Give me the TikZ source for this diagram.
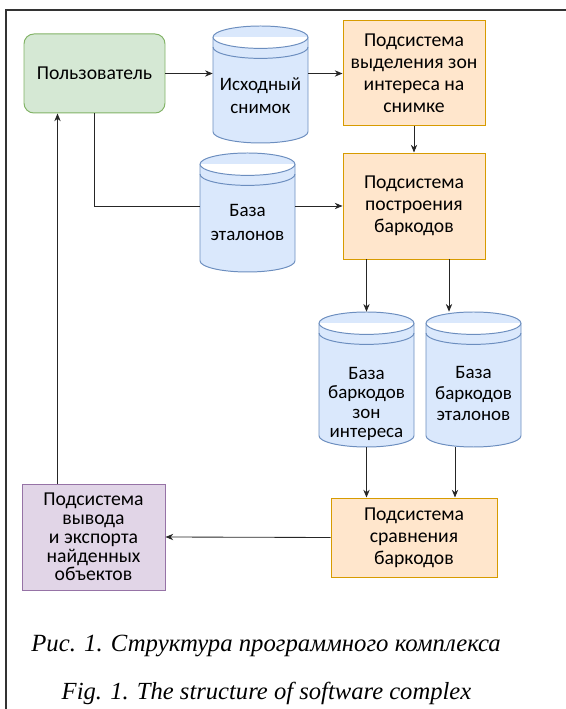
\documentclass[tikz,border=0pt]{standalone}
\usepackage{fontspec}
\setmainfont{Carlito}
\newfontfamily\captionfont{Liberation Serif}
\usetikzlibrary{arrows.meta,calc}
\definecolor{sage}{RGB}{213, 232, 212}
\definecolor{sagedark}{RGB}{130, 179, 102}
\definecolor{apricot}{RGB}{255, 230, 204}
\definecolor{apricotdark}{RGB}{215, 155, 0}
\definecolor{sky}{RGB}{218, 232, 252}
\definecolor{skydark}{RGB}{108, 142, 191}
\definecolor{lilac}{RGB}{225, 213, 231}
\definecolor{lilacdark}{RGB}{150, 115, 166}

\begin{document}
\begin{tikzpicture}[
        box/.style={draw, line width=0.7pt, align=center, inner sep=0pt, font=\fontsize{14}{15.7}\selectfont},
        label text/.style={align=center, inner sep=0pt, font=\fontsize{13.5}{#1}\selectfont},
        flow/.style={-{Stealth[length=5.5pt, width=4.5pt]}, line width=0.6pt, black!85},
        link/.style={line width=0.6pt, black!85}]
            % Frame
            \useasboundingbox                                                 (0.00, 0.00) rectangle (14.15, 17.725);
            \draw[black!80, line width=1.2pt]                                 (0.15, 0.00) -- (0.15, 17.475) -- (14.15, 17.475);
            % Subsystems
            \node[box, fill=sage, draw=sagedark, rounded corners=7pt,
                  minimum width=3.525cm, minimum height=1.975cm] (user)   at ( 2.3625, 15.8875) {Пользователь};
            \node[box, fill=apricot, draw=apricotdark,
                  minimum width=3.55cm, minimum height=2.625cm]  (sys1)   at (10.3500, 15.8875) {Подсистема\\выделения зон\\интереса на\\снимке};
            \node[box, fill=apricot, draw=apricotdark,
                  minimum width=3.55cm, minimum height=2.65cm]   (sys2)   at (10.3500, 12.5750) {Подсистема\\построения\\баркодов};
            \node[box, fill=apricot, draw=apricotdark,
                  minimum width=4.15cm, minimum height=1.975cm]  (sys3)   at (10.3500,  4.2875) {Подсистема\\сравнения\\баркодов};
            \node[box, fill=lilac, draw=lilacdark, font=\fontsize{14}{13.4}\selectfont,
                  minimum width=3.575cm, minimum height=2.65cm]  (output) at ( 2.3375,  4.3000) {Подсистема\\вывода\\и экспорта\\найденных\\объектов};
            % Data stores
            \foreach \name/\x/\y/\h in {snimok/6.5125/15.6125/2.925, etalon/6.1875/12.4125/2.975,
                                        bzi/9.1625/8.2375/3.375, be/11.8375/8.2375/3.375}{
                \pgfmathsetmacro\xl{\x-1.1875}
                \pgfmathsetmacro\xr{\x+1.1875}
                \pgfmathsetmacro\yt{\y+\h/2-0.28}
                \pgfmathsetmacro\yb{\y-\h/2+0.28}
                \filldraw[fill=sky, draw=skydark, line width=0.7pt]  (\xl,\yt) -- (\xl,\yb) arc (180:360:1.1875 and 0.28)
                                                                     -- (\xr,\yt) arc (0:180:1.1875 and 0.28) -- cycle;
                \fill[white]                                         (\xl,\yt) arc (180:360:1.1875 and 0.28) -- cycle;
                \draw[skydark, line width=0.7pt]                     (\xl,\yt) arc (180:360:1.1875 and 0.28);
                \draw[skydark, line width=0.7pt]                     (\xl,\yt-0.25) arc (180:360:1.1875 and 0.28);
                \node[minimum width=2.375cm, minimum height=\h cm, inner sep=0pt] (\name) at (\x,\y) {};
            }
            \node[label text=17.0] (snimokText) at ($(snimok.center)+(0,-0.28)$) {Исходный\\снимок};
            \node[label text=17.0] (etalonText) at ($(etalon.center)+(0,-0.25)$) {База\\эталонов};
            \node[label text=13.6] (bziText)    at ($(bzi.center)+(0,-0.61)$)    {База\\баркодов\\зон\\интереса};
            \node[label text=14.9] (beText)     at ($(be.center)+(0,-0.36)$)     {База\\баркодов\\эталонов};
            % Connectors
            \draw[flow] (user.east) -- (user.east -| snimok.west);
            \draw[flow] (snimok.east |- sys1.west) -- (sys1.west);
            \draw[flow] (sys1.south) -- (sys2.north);
            \draw[link] (user.south) |- (etalon.west |- sys2.west);
            \draw[flow] (etalon.east |- sys2.west) -- (sys2.west);
            \draw[flow] (sys2.south -| bzi.north) -- (bzi.north);
            \coordinate (split) at ($(sys2.south)+(0.875,0)$);
            \draw[flow] (split) -- (split |- be.north);
            \draw[flow] (bzi.south) -- (bzi.south |- sys3.north);
            \coordinate (merge) at ($(sys3.north)+(1.025,0)$);
            \draw[flow] (merge |- be.south) -- (merge);
            \draw[flow] (sys3.west) -- (output.east);
            \coordinate (back) at ($(output.north west)+(0.9,0)$);
            \draw[flow] (back) -- (back |- user.south);
            % Caption
            \node[anchor=base, font=\captionfont\itshape\fontsize{17.6}{21}\selectfont] (capRu) at (6.6500, 1.425) {Рис. 1. Структура программного комплекса};
            \node[anchor=base, font=\captionfont\itshape\fontsize{17.5}{21}\selectfont] (capEn) at (6.6625, 0.225) {Fig. 1. The structure of software complex};
        \end{tikzpicture}
\end{document}
